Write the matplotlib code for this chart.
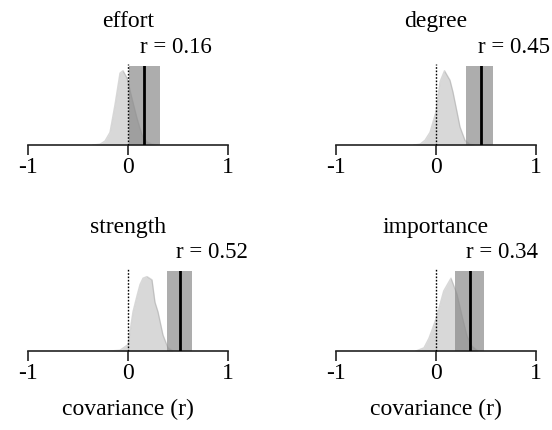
"""Posterior densities of covariance vs. observed r for four measures."""

import matplotlib
matplotlib.use('Agg')
import matplotlib.pyplot as plt

plt.rcParams['font.family'] = ['Liberation Serif', 'DejaVu Serif']

# observed correlation and its interval
measures = ['effort', 'degree', 'strength', 'importance']
r_obs = [0.16, 0.45, 0.52, 0.34]
ci_low = [0.01, 0.30, 0.39, 0.19]
ci_high = [0.32, 0.57, 0.64, 0.48]

# null densities (height relative to band height)
effort_x = [-0.35, -0.28, -0.23, -0.18, -0.13, -0.08, -0.05, -0.01, 0.04, 0.09, 0.14, 0.19, 0.24, 0.30]
effort_y = [0.0, 0.01, 0.05, 0.16, 0.51, 0.91, 0.94, 0.85, 0.59, 0.34, 0.13, 0.04, 0.01, 0.0]
degree_x = [-0.22, -0.16, -0.11, -0.06, 0.0, 0.04, 0.085, 0.14, 0.17, 0.21, 0.24, 0.29, 0.34, 0.38]
degree_y = [0.0, 0.01, 0.06, 0.16, 0.42, 0.80, 0.94, 0.82, 0.67, 0.42, 0.23, 0.06, 0.01, 0.0]
strength_x = [-0.18, -0.08, 0.0, 0.05, 0.09, 0.12, 0.15, 0.19, 0.24, 0.27, 0.30, 0.35, 0.40, 0.45]
strength_y = [0.0, 0.01, 0.08, 0.49, 0.69, 0.83, 0.91, 0.93, 0.89, 0.61, 0.49, 0.20, 0.04, 0.0]
importance_x = [-0.20, -0.12, -0.07, 0.0, 0.077, 0.15, 0.21, 0.26, 0.31, 0.36, 0.42]
importance_y = [0.0, 0.04, 0.16, 0.40, 0.75, 0.91, 0.71, 0.44, 0.19, 0.06, 0.0]

dens_x = [effort_x, degree_x, strength_x, importance_x]
dens_y = [effort_y, degree_y, strength_y, importance_y]

tick_vals = [-1, 0, 1]
tick_text = ['-1', '0', '1']

W, H = 552, 430
fig = plt.figure(figsize=(W / 100, H / 100), dpi=100)

# panel boxes in pixels: left, top, bottom
boxes = [(28, 66, 145), (336, 66, 145), (28, 271, 351), (336, 271, 351)]
fs = 17
fs_r = 16.5

for i, name in enumerate(measures):
    left, top, bottom = boxes[i]
    ax = fig.add_axes([left / W, 1 - bottom / H, 200 / W, (bottom - top) / H])
    ax.set_xlim(-1, 1)
    ax.set_ylim(0, 1)

    ax.axvspan(ci_low[i], ci_high[i], ymin=0, ymax=1, color='#adadad', lw=0, zorder=1)
    ax.fill_between(dens_x[i], dens_y[i], 0, color='#808080', alpha=0.3, lw=0, zorder=2)
    ax.plot(dens_x[i], dens_y[i], color='#909090', alpha=0.35, lw=1, zorder=2)
    ax.plot([0, 0], [0, 1.03], color='black', ls=(0, (1.2, 1.2)), lw=1, zorder=3, clip_on=False)
    ax.plot([r_obs[i], r_obs[i]], [0, 1], color='black', lw=2, zorder=4)

    for s in ['top', 'right', 'left']:
        ax.spines[s].set_visible(False)
    ax.spines['bottom'].set_color('#222222')
    ax.spines['bottom'].set_linewidth(1.2)
    ax.set_yticks([])
    ax.set_xticks(tick_vals)
    ax.set_xticklabels(tick_text, fontsize=fs)
    ax.tick_params(axis='x', direction='out', length=7.5, width=1.2, color='#222222', pad=1)

    ax.text(0, 1 + 44 / (bottom - top), name, fontsize=fs, ha='center', va='center',
            clip_on=False)
    ax.text(r_obs[i] - 0.035, 1 + 18 / (bottom - top), f'r = {r_obs[i]:.2f}', fontsize=fs_r,
            ha='left', va='center', clip_on=False)

    if i >= 2:
        ax.text(0, -58 / (bottom - top), 'covariance (r)', fontsize=fs, ha='center',
                va='center', clip_on=False)

fig.savefig('out.png', dpi=100, facecolor='white')
